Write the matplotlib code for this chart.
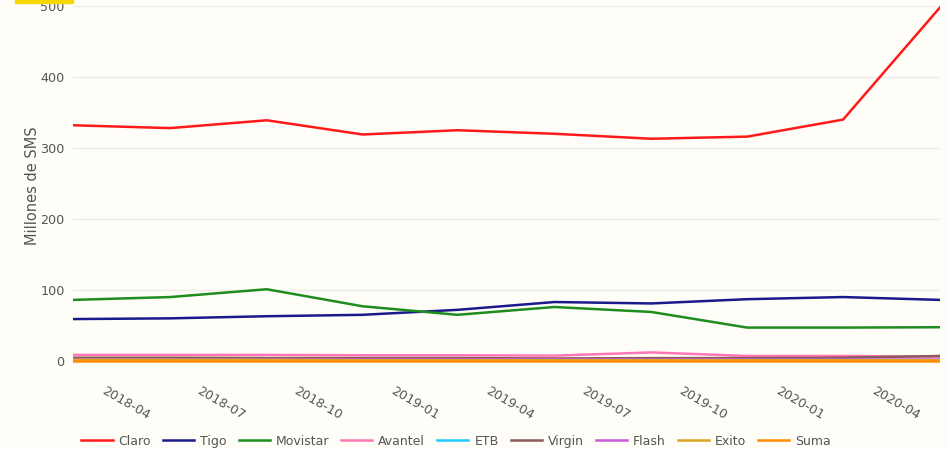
import matplotlib
matplotlib.use("Agg")
import matplotlib.pyplot as plt
from matplotlib.patches import Rectangle
from datetime import datetime

# quarterly dates
fechas = ["2018-03", "2018-06", "2018-09", "2018-12", "2019-03",
          "2019-06", "2019-09", "2019-12", "2020-03", "2020-06"]

claro    = [332, 328, 339, 319, 325, 320, 313, 316, 340, 498]
tigo     = [59, 60, 63, 65, 72, 83, 81, 87, 90, 86]
movistar = [86, 90, 101, 77, 65, 76, 69, 47, 47, 47.5]
avantel  = [8.5, 8.5, 8.5, 8, 8, 7.5, 12, 7, 7, 6]
etb      = [1.5, 1.5, 1.5, 1.5, 1.5, 1.5, 1.5, 1.5, 1.5, 1.5]
virgin   = [4.5, 4.5, 4, 4, 4, 3.5, 4, 4, 4.5, 7]
flash    = [3, 3, 3, 3, 3, 3, 3, 3, 3, 3]
exito    = [1.5, 1.5, 1.5, 1, 1, 1, 1, 1, 1, 1]
suma     = [0.3, 0.3, 0.3, 0.3, 0.3, 0.3, 0.3, 0.3, 0.3, 0.3]

series = [("Claro", claro, "#ff1a1a"), ("Tigo", tigo, "#1a1a8c"),
          ("Movistar", movistar, "#1f8c1f"), ("Avantel", avantel, "#ff77b4"),
          ("ETB", etb, "#1ec8ff"), ("Virgin", virgin, "#8c5a5a"),
          ("Flash", flash, "#c85ad8"), ("Exito", exito, "#daa520"),
          ("Suma", suma, "#ff8c00")]

tick_labels = ["2018-04", "2018-07", "2018-10", "2019-01", "2019-04",
               "2019-07", "2019-10", "2020-01", "2020-04"]

x = [datetime.strptime(f, "%Y-%m") for f in fechas]
bg = "#fffdf7"

fig = plt.figure(figsize=(9.47, 4.49), dpi=100, facecolor=bg)
ax = fig.add_axes([73/947, (449-364.5)/449, 867/947, 358.5/449], facecolor=bg)

for name, vals, col in series:
    ax.plot(x, vals, color=col, lw=1.8, label=name)

ax.set_xlim(x[0], x[-1])
ax.set_ylim(-5, 500)
ax.set_yticks([0, 100, 200, 300, 400, 500])
ax.grid(axis="y", color="#ececec", lw=1)
ax.set_axisbelow(True)
for s in ax.spines.values():
    s.set_visible(False)

tk = [datetime.strptime(t, "%Y-%m") for t in tick_labels]
ax.set_xticks(tk)
ax.set_xticklabels(tick_labels, rotation=-30, ha="left", va="top",
                   rotation_mode="anchor")
ax.tick_params(axis="x", length=0, pad=14, labelsize=9.2, labelcolor="#555555")
ax.tick_params(axis="y", length=0, pad=6, labelsize=9.2, labelcolor="#555555")
ax.set_ylabel("Millones de SMS", fontsize=10.5, color="#555555", labelpad=0)

fig.legend(loc="lower left", bbox_to_anchor=(70/947, -0.022), ncol=9,
           frameon=False, fontsize=9, handlelength=2.5, columnspacing=0.95,
           handletextpad=0.48, labelcolor="#555555")

fig.patches.append(Rectangle((15/947, 446/449), 58/947, 3/449,
                             transform=fig.transFigure, color="#f5d800"))

fig.savefig("out.png", dpi=100, facecolor=bg)
